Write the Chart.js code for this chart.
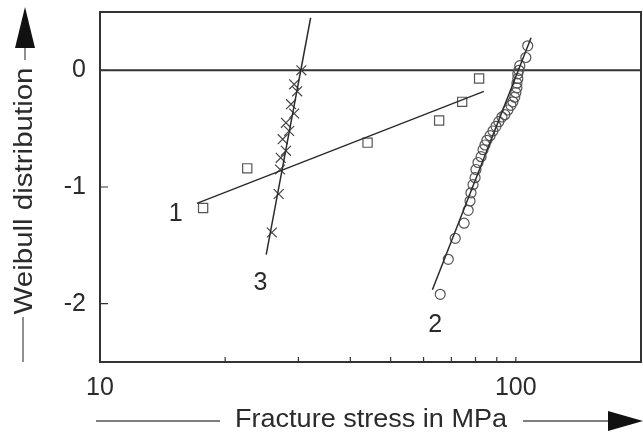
<!DOCTYPE html>
<html>
<head>
<meta charset="utf-8">
<script src="https://cdn.jsdelivr.net/npm/chart.js@4.4.1/dist/chart.umd.min.js"></script>
<style>
  html, body { margin: 0; padding: 0; background: #fff; }
  #wrap { width: 643px; height: 437px; }
</style>
</head>
<body>
<div id="wrap"><canvas id="weibullChart"></canvas></div>
<script>
// curve 1 - squares
const stress1 = [17.7, 22.6, 44.0, 65.4, 74.3, 81.6];
const weibull1 = [-1.18, -0.84, -0.62, -0.43, -0.27, -0.07];
const fit1X = [17.1, 83.8];
const fit1Y = [-1.14, -0.18];

// curve 2 - circles
const stress2 = [65.8, 68.8, 71.5, 75.1, 76.8, 77.6, 78.0, 78.9, 79.8, 80.2, 81.1, 82.5,
  83.4, 84.3, 85.2, 86.7, 88.1, 89.6, 91.0, 92.6, 94.1, 95.7, 97.3, 98.4, 99.4, 100.0,
  100.6, 100.6, 101.1, 101.1, 101.7, 102.2, 105.7, 106.8];
const weibull2 = [-1.92, -1.62, -1.44, -1.31, -1.20, -1.12, -1.05, -0.98, -0.92, -0.85, -0.79, -0.74,
  -0.68, -0.64, -0.60, -0.56, -0.52, -0.48, -0.44, -0.40, -0.38, -0.34, -0.30, -0.27, -0.23, -0.19,
  -0.15, -0.11, -0.07, -0.03, 0.0, 0.04, 0.11, 0.21];
const fit2X = [63.0, 108.8];
const fit2Y = [-1.88, 0.28];

// curve 3 - crosses
const stress3 = [30.5, 29.3, 29.8, 28.8, 29.3, 28.0, 28.5, 27.5, 28.0, 27.2, 27.1, 26.9, 25.9];
const weibull3 = [0.0, -0.12, -0.18, -0.29, -0.37, -0.45, -0.52, -0.59, -0.69, -0.75, -0.85, -1.06, -1.39];
const fit3X = [32.1, 25.1];
const fit3Y = [0.45, -1.58];

// curve numbers
const curveNames = ['1', '2', '3'];
const curveNameX = [15.2, 64.0, 24.3];
const curveNameY = [-1.23, -2.18, -1.82];

// axes
const xTickValues = [10, 20, 30, 40, 50, 60, 70, 80, 90, 100];
const xLabelValues = [10, 100];
const yTickValues = [-2, -1, 0];

const ink = '#2b2b2b';
const fontFamily = '"Liberation Sans", Arial, Helvetica, sans-serif';

function pairs(xs, ys) {
  return xs.map((x, i) => ({ x: x, y: ys[i] }));
}

function fitLine(xs, ys) {
  return {
    type: 'line', data: pairs(xs, ys), borderColor: ink, borderWidth: 1.5,
    pointRadius: 0, fill: false, tension: 0
  };
}

function drawFitted(ctx, text, cx, cy, width, vertical) {
  ctx.save();
  ctx.translate(cx, cy);
  if (vertical) ctx.rotate(-Math.PI / 2);
  const w = ctx.measureText(text).width;
  ctx.scale(width / w, 1);
  ctx.fillText(text, 0, 0);
  ctx.restore();
}

const framePlugin = {
  id: 'frame',
  beforeDatasetsDraw(chart) {
    const { ctx, chartArea: a, scales } = chart;
    ctx.save();
    ctx.strokeStyle = '#333';
    ctx.lineWidth = 2;
    ctx.strokeRect(a.left, a.top, a.right - a.left, a.bottom - a.top);
    const y0 = scales.y.getPixelForValue(0);
    ctx.beginPath();
    ctx.moveTo(a.left, y0);
    ctx.lineTo(a.right, y0);
    ctx.stroke();
    ctx.lineWidth = 1.2;
    ctx.beginPath();
    yTickValues.forEach(v => {
      const py = scales.y.getPixelForValue(v);
      ctx.moveTo(a.left, py);
      ctx.lineTo(a.left + 8, py);
    });
    xTickValues.slice(1).forEach(v => {
      const px = scales.x.getPixelForValue(v);
      ctx.moveTo(px, a.bottom);
      ctx.lineTo(px, a.bottom - 5);
    });
    ctx.stroke();
    ctx.restore();
  },
  afterDraw(chart) {
    const { ctx, scales } = chart;
    ctx.save();
    ctx.fillStyle = ink;
    ctx.strokeStyle = '#555';
    ctx.textAlign = 'center';
    ctx.textBaseline = 'middle';
    ctx.font = '25px ' + fontFamily;
    curveNames.forEach((t, i) => {
      ctx.fillText(t, scales.x.getPixelForValue(curveNameX[i]), scales.y.getPixelForValue(curveNameY[i]));
    });

    // x axis title with arrow
    drawFitted(ctx, 'Fracture stress in MPa', 371, 420, 272, false);
    ctx.lineWidth = 1.3;
    ctx.beginPath();
    ctx.moveTo(96, 421); ctx.lineTo(220, 421);
    ctx.moveTo(523, 421); ctx.lineTo(610, 421);
    ctx.stroke();
    ctx.fillStyle = '#111';
    ctx.beginPath();
    ctx.moveTo(608, 411); ctx.lineTo(643, 421); ctx.lineTo(608, 431);
    ctx.closePath(); ctx.fill();

    // y axis title with arrow
    ctx.fillStyle = ink;
    drawFitted(ctx, 'Weibull distribution', 25, 191, 247, true);
    ctx.beginPath();
    ctx.moveTo(23, 317); ctx.lineTo(23, 362);
    ctx.moveTo(25, 45); ctx.lineTo(25, 60);
    ctx.stroke();
    ctx.fillStyle = '#111';
    ctx.beginPath();
    ctx.moveTo(25, 7); ctx.lineTo(35, 48); ctx.lineTo(15, 48);
    ctx.closePath(); ctx.fill();
    ctx.restore();
  }
};

new Chart(document.getElementById('weibullChart'), {
  type: 'scatter',
  data: {
    datasets: [
      fitLine(fit1X, fit1Y),
      fitLine(fit2X, fit2Y),
      fitLine(fit3X, fit3Y),
      {
        data: pairs(stress1, weibull1), pointStyle: 'rect', pointRadius: 6.5,
        borderColor: '#555', borderWidth: 1.2, backgroundColor: 'rgba(0,0,0,0)'
      },
      {
        data: pairs(stress2, weibull2), pointStyle: 'circle', pointRadius: 5,
        borderColor: '#555', borderWidth: 1.2, backgroundColor: 'rgba(0,0,0,0)'
      },
      {
        data: pairs(stress3, weibull3), pointStyle: 'crossRot', pointRadius: 7,
        borderColor: '#444', borderWidth: 1.2, backgroundColor: 'rgba(0,0,0,0)'
      }
    ]
  },
  options: {
    responsive: true,
    maintainAspectRatio: false,
    animation: false,
    layout: { autoPadding: false, padding: { top: 12, right: 2, left: 0, bottom: 0 } },
    plugins: { legend: { display: false }, tooltip: { enabled: false } },
    scales: {
      x: {
        type: 'logarithmic', min: 10, max: 200,
        // the axis end gets an empty label so no extra right padding is reserved
        afterBuildTicks: s => { s.ticks = xTickValues.concat([200]).map(v => ({ value: v })); },
        afterFit: s => { s.height = 75; s.paddingLeft = 0; s.paddingRight = 0; },
        grid: { display: false, drawTicks: false },
        border: { display: false },
        ticks: {
          autoSkip: false, maxRotation: 0, padding: 11, color: ink,
          font: { family: fontFamily, size: 25 },
          callback: v => xLabelValues.includes(v) ? String(v) : ''
        }
      },
      y: {
        type: 'linear', min: -2.5, max: 0.5,
        afterBuildTicks: s => { s.ticks = yTickValues.map(v => ({ value: v })); },
        afterFit: s => { s.width = 100; s.paddingTop = 0; s.paddingBottom = 0; },
        grid: { display: false, drawTicks: false },
        border: { display: false },
        ticks: {
          padding: 14, color: ink,
          font: { family: fontFamily, size: 25 }
        }
      }
    }
  },
  plugins: [framePlugin]
});
</script>
</body>
</html>
